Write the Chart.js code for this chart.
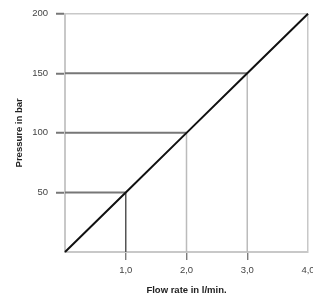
<!DOCTYPE html>
<html>
<head>
<meta charset="utf-8">
<script src="https://cdn.jsdelivr.net/npm/chart.js@4/dist/chart.umd.min.js"></script>
<style>
    html, body { margin: 0; padding: 0; background: #fff; overflow: hidden; }
    #wrap { position: relative; width: 330px; height: 296px; }
</style>
</head>
<body>
<div id="wrap"><canvas id="pressureChart"></canvas></div>
<script>
// Kennlinie: Durchfluss (l/min) gegen Druck (bar)
const flowRate = [0, 1.0, 2.0, 3.0, 4.0];
const pressure = [0, 50, 100, 150, 200];
// Hilfslinien zu den markierten Punkten
const guideFlow = [1.0, 2.0, 3.0];
const guidePressure = [50, 100, 150];
const guideVerticalColors = ['#555', '#bbb', '#bbb'];

document.addEventListener('DOMContentLoaded', () => {
    const ctx = document.getElementById('pressureChart').getContext('2d');
    const font = { family: '"Liberation Sans", Arial, sans-serif', size: 9.5 };

    const datasets = [{
        data: flowRate.map((x, i) => ({ x: x, y: pressure[i] })),
        borderColor: '#111',
        borderWidth: 2
    }];

    guideFlow.forEach((f, i) => {
        const p = guidePressure[i];
        // waagerechte Linie von der Achse bis zur Kennlinie
        datasets.push({ data: [{ x: 0, y: p }, { x: f, y: p }], borderColor: '#777', borderWidth: 2 });
        // senkrechte Linie runter zur x-Achse
        datasets.push({ data: [{ x: f, y: 0 }, { x: f, y: p }], borderColor: guideVerticalColors[i], borderWidth: 1.5 });
    });

    datasets.forEach(ds => {
        ds.showLine = true;
        ds.pointRadius = 0;
        ds.clip = false;
    });

    new Chart(ctx, {
        type: 'scatter',
        data: { datasets: datasets },
        options: {
            responsive: true,
            maintainAspectRatio: false,
            animation: false,
            layout: { padding: { left: 0, top: 12, right: 22, bottom: 0 } },
            plugins: { legend: { display: false }, tooltip: { enabled: false } },
            scales: {
                x: {
                    type: 'linear', min: 0, max: 4,
                    afterFit: (scale) => { scale.height = 44; },
                    ticks: {
                        stepSize: 1, color: '#444', font: font, padding: 5, maxRotation: 0,
                        callback: (v) => v === 0 ? '' : v.toFixed(1).replace('.', ',')
                    },
                    grid: {
                        drawOnChartArea: true, drawTicks: true, tickLength: 8,
                        color: (c) => c.tick && c.tick.value === 4 ? '#c8c8c8' : 'transparent',
                        lineWidth: 1.5,
                        tickColor: (c) => c.tick && c.tick.value > 0 && c.tick.value < 4 ? '#666' : 'transparent',
                        tickWidth: 1.2
                    },
                    border: { color: '#c8c8c8', width: 2 },
                    title: {
                        display: true, text: 'Flow rate in l/min.', color: '#222',
                        font: { family: font.family, size: 9.5, weight: 'bold' },
                        padding: { top: 0, bottom: 0 }
                    }
                },
                y: {
                    type: 'linear', min: 0, max: 200,
                    afterFit: (scale) => { scale.width = 65; },
                    ticks: {
                        stepSize: 50, color: '#444', font: font, padding: 8,
                        callback: (v) => v === 0 ? '' : v
                    },
                    grid: {
                        drawOnChartArea: true, drawTicks: true, tickLength: 9,
                        color: (c) => c.tick && c.tick.value === 200 ? '#c8c8c8' : 'transparent',
                        lineWidth: 1.5,
                        tickColor: (c) => c.tick && c.tick.value > 0 ? '#777' : 'transparent',
                        tickWidth: 2
                    },
                    border: { color: '#c8c8c8', width: 2 },
                    title: {
                        display: true, text: 'Pressure in bar', color: '#222',
                        font: { family: font.family, size: 9.5, weight: 'bold' },
                        padding: { top: 14, bottom: 0 }
                    }
                }
            }
        }
    });
});
</script>
</body>
</html>
